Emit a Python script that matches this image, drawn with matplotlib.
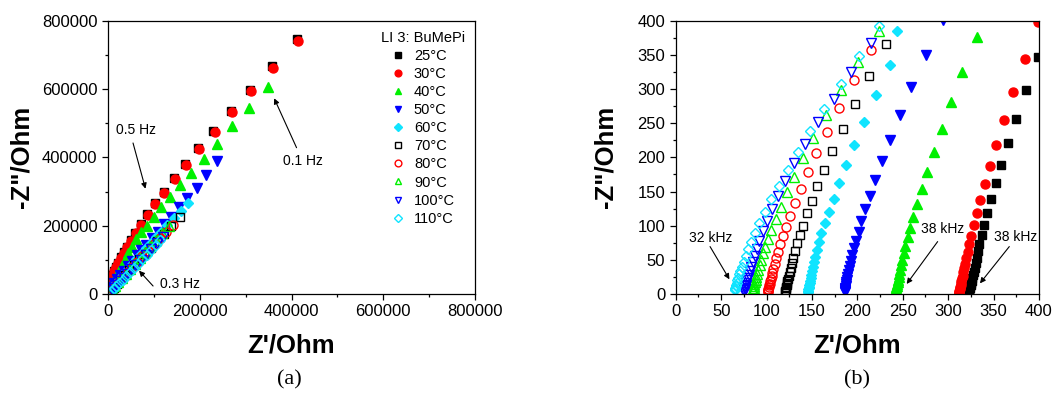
import matplotlib as mpl
mpl.use('Agg')
import matplotlib.pyplot as plt
from matplotlib.ticker import MultipleLocator

plt.rcParams['font.family'] = ['Liberation Sans', 'DejaVu Sans']

temps = ['25°C', '30°C', '40°C', '50°C', '60°C', '70°C', '80°C', '90°C', '100°C', '110°C']
legend_title = 'LI 3: BuMePi'

# panel (a): low frequency part, Ohm
a_x_25 = [410900, 357000, 309000, 267000, 229000, 196000, 167000, 143000, 121000, 101500, 85000, 71500,
          59500, 49500, 41000, 33800, 27500, 22000, 17500, 13500, 10200, 7800, 5700, 3700, 2400]
a_y_25 = [745400, 666000, 598000, 535000, 477000, 428000, 380000, 339000, 299000, 265000, 233000, 205000,
          180000, 158000, 139000, 122000, 107000, 92000, 80000, 68000, 56500, 45000, 33000, 21500, 12500]
a_x_30 = [414500, 360000, 312700, 270500, 232700, 198500, 170200, 145500, 122900, 103300, 86500, 72700,
          60400, 50200, 41500, 34200, 27700, 22300, 17900, 13500, 10300, 8100, 5900, 3700, 2600]
a_y_30 = [739500, 662400, 595100, 531700, 475100, 424400, 376600, 335600, 295600, 262400, 230200, 202000,
          177600, 156100, 137600, 121000, 105400, 90700, 79000, 67300, 55600, 43900, 32200, 20500, 11700]
a_x_40 = [349100, 308400, 270500, 237800, 209500, 181800, 157800, 136000, 116400, 99600, 85100, 72000,
          62000, 51700, 44500, 37100, 30000, 24000, 18000, 13000, 9000, 6000, 3500]
a_y_40 = [604900, 545400, 491700, 440000, 394100, 353200, 318000, 282900, 253700, 224400, 200000, 180600,
          160100, 138500, 119100, 99500, 82000, 67000, 53000, 40000, 29000, 19000, 11000]
a_x_50 = [237800, 213200, 192900, 172400, 154300, 136800, 122200, 109100, 96000, 83800, 72000, 63300,
          52000, 43000, 34000, 27000, 20000, 14000, 9000, 5000]
a_y_50 = [389300, 348300, 311100, 281900, 253800, 226300, 204900, 182400, 163000, 143400, 128800, 114200,
          97000, 83000, 68000, 55000, 43000, 31000, 21000, 12000]
a_x_60 = [175400, 158600, 143400, 129600, 116500, 104100, 93800, 83800, 72000, 61000, 50000, 40000,
          31000, 23000, 16000, 10000, 5000]
a_y_60 = [265500, 242900, 221600, 202000, 182400, 166000, 150200, 135500, 118000, 101000, 84000, 68000,
          53000, 40000, 28000, 18000, 9000]
a_x_70 = [157100, 138000, 121000, 106000, 93000, 80000, 68000, 57000, 46000, 36000, 27000, 19000, 12000, 6000]
a_y_70 = [226300, 200000, 176000, 155000, 136000, 118000, 101000, 85000, 69000, 55000, 41000, 29000, 18000, 9000]
a_x_80 = [141800, 127300, 113000, 100000, 87000, 75000, 64000, 53000, 43000, 33000, 24000, 16000, 9000, 4000]
a_y_80 = [201000, 182400, 163000, 145000, 127000, 110000, 94000, 78000, 63000, 49000, 36000, 24000, 14000, 6000]
a_x_90 = [133100, 118000, 105000, 92000, 80000, 69000, 58000, 48000, 39000, 30000, 22000, 15000, 9000, 4000]
a_y_90 = [200000, 179000, 159000, 140000, 122000, 105000, 89000, 74000, 60000, 47000, 35000, 24000, 14000, 6000]
a_x_100 = [120000, 106000, 94000, 82000, 71000, 61000, 51000, 42000, 34000, 26000, 19000, 13000, 8000, 3500]
a_y_100 = [165800, 148000, 131000, 114000, 99000, 85000, 72000, 59000, 48000, 37000, 27000, 18000, 11000, 5000]
a_x_110 = [112700, 104000, 94500, 85000, 75000, 66000, 57000, 48000, 40000, 32000, 25000, 18000, 12000, 7000, 3000]
a_y_110 = [158000, 143400, 128800, 115000, 101000, 88000, 76000, 64000, 53000, 42000, 33000, 24000, 16000, 9000, 4000]

# panel (b): high frequency part, Ohm
b_x_25 = [399.3, 385.7, 374.7, 365.9, 358.2, 352.3, 347.2, 342.8, 339.4, 336.9, 334.3, 332.8, 331.4, 330.1,
          329.0, 328.0, 327.2, 326.5, 325.8, 325.2, 324.7, 324.2, 323.8, 323.4, 323.0, 322.7, 322.4, 322.1]
b_y_25 = [346.8, 297.9, 256.4, 220.3, 189.5, 162.6, 138.7, 119.2, 101.6, 86.4, 73.3, 62.5, 53.2, 45.2,
          38.3, 32.4, 27.4, 23.1, 19.4, 16.2, 13.4, 11.0, 8.9, 7.0, 5.3, 3.8, 2.5, 1.4]
b_x_30 = [399.3, 384.6, 371.4, 361.5, 352.7, 345.7, 340.2, 335.4, 331.4, 328.1, 325.5, 323.3, 321.5, 320.0,
          318.7, 317.6, 316.7, 315.9, 315.2, 314.6, 314.1, 313.7, 313.3, 312.9, 312.6, 312.3, 312.1, 311.9, 311.7]
b_y_30 = [398.5, 343.8, 295.5, 254.0, 218.3, 187.5, 161.2, 137.7, 118.2, 100.6, 85.5, 72.8, 62.0, 52.3,
          44.5, 37.8, 32.0, 27.0, 22.7, 19.0, 15.8, 13.0, 10.6, 8.5, 6.6, 4.9, 3.4, 2.1, 1.0]
b_x_40 = [332.1, 315.6, 302.8, 292.8, 284.0, 276.7, 270.8, 265.7, 261.7, 258.0, 255.4, 252.8, 251.4, 249.5,
          248.3, 247.2, 246.3, 245.5, 244.8, 244.2, 243.7, 243.3, 242.9, 242.6, 242.3, 242.0, 241.8, 241.6]
b_y_40 = [375.6, 324.8, 280.8, 242.2, 208.5, 179.2, 154.3, 132.4, 113.3, 97.2, 83.0, 70.3, 59.6, 49.8,
          42.0, 35.5, 30.0, 25.2, 21.1, 17.6, 14.6, 12.0, 9.7, 7.7, 5.9, 4.3, 2.9, 1.6]
b_x_50 = [293.9, 275.2, 259.4, 246.6, 236.3, 227.2, 219.8, 213.6, 208.8, 204.4, 201.5, 198.5, 196.0, 194.1,
          192.7, 191.5, 190.5, 189.7, 189.0, 188.4, 187.9, 187.5, 187.1, 186.8, 186.5, 186.3, 186.1, 185.9]
b_y_50 = [400.5, 349.2, 302.3, 261.8, 225.2, 194.9, 167.5, 144.1, 124.0, 107.0, 91.3, 78.1, 66.9, 57.1,
          48.4, 41.0, 34.6, 29.1, 24.4, 20.4, 17.0, 14.0, 11.4, 9.1, 7.1, 5.3, 3.7, 2.3]
b_x_60 = [244.0, 236.3, 220.9, 207.7, 196.7, 187.9, 180.2, 174.0, 168.8, 164.4, 160.4, 157.8, 155.6, 153.8,
          152.3, 151.0, 150.0, 149.1, 148.4, 147.8, 147.3, 146.9, 146.5, 146.2, 145.9, 145.7, 145.5, 145.3]
b_y_60 = [385.3, 335.5, 291.1, 252.0, 217.8, 188.5, 162.6, 139.7, 120.1, 104.0, 88.9, 75.7, 64.5, 54.7,
          46.3, 39.2, 33.1, 27.9, 23.4, 19.6, 16.3, 13.4, 10.9, 8.7, 6.8, 5.1, 3.6, 2.2]
b_x_70 = [231.6, 212.8, 197.4, 183.9, 172.5, 163.7, 156.0, 149.7, 144.2, 140.2, 136.5, 133.6, 131.0, 129.2,
          127.7, 126.4, 125.3, 124.4, 123.6, 123.0, 122.4, 122.0, 121.6, 121.3, 121.0, 120.8, 120.6]
b_y_70 = [365.3, 318.9, 277.9, 241.8, 209.5, 181.7, 157.8, 136.3, 118.2, 100.1, 86.4, 74.2, 63.0, 53.2,
          45.0, 38.0, 32.0, 26.9, 22.5, 18.8, 15.6, 12.8, 10.3, 8.1, 6.1, 4.3, 2.7]
b_x_80 = [215.4, 196.3, 180.2, 166.2, 154.9, 145.3, 137.6, 131.0, 125.9, 121.5, 117.8, 114.9, 112.3, 110.5,
          108.9, 107.6, 106.5, 105.5, 104.7, 104.0, 103.4, 102.9, 102.5, 102.1, 101.8, 101.5, 101.3]
b_y_80 = [357.0, 312.6, 272.5, 236.9, 206.1, 178.8, 154.3, 133.8, 114.8, 98.7, 85.0, 72.8, 62.0, 52.3,
          44.2, 37.3, 31.4, 26.4, 22.1, 18.4, 15.3, 12.5, 10.1, 8.0, 6.1, 4.4, 2.9]
b_x_90 = [223.5, 201.1, 182.4, 165.5, 151.2, 139.8, 129.9, 122.2, 115.6, 110.1, 105.3, 102.0, 98.7, 96.5,
          94.3, 92.5, 91.0, 89.8, 88.8, 88.0, 87.3, 86.7, 86.2, 85.8, 85.4, 85.1, 84.8]
b_y_90 = [385.3, 338.9, 297.9, 261.3, 228.1, 198.8, 171.9, 149.0, 128.0, 110.4, 93.8, 81.1, 69.4, 59.6,
          49.8, 42.0, 35.4, 29.8, 25.0, 20.9, 17.4, 14.4, 11.8, 9.5, 7.4, 5.5, 3.8]
b_x_100 = [214.7, 192.7, 173.9, 156.7, 142.8, 130.6, 120.7, 112.7, 106.1, 100.6, 96.1, 92.1, 89.2, 87.0,
           84.8, 83.0, 81.5, 80.3, 79.3, 78.5, 77.8, 77.2, 76.7, 76.3, 75.9, 75.6, 75.3]
b_y_100 = [367.3, 324.8, 285.7, 251.0, 219.8, 191.5, 166.1, 144.1, 124.5, 107.0, 91.8, 78.1, 66.4, 56.2,
           47.4, 40.0, 33.7, 28.4, 23.8, 19.9, 16.6, 13.7, 11.2, 9.0, 7.0, 5.2, 3.6]
b_x_110 = [224.2, 201.8, 182.0, 163.7, 147.9, 134.3, 123.3, 113.4, 105.3, 98.0, 92.1, 87.3, 83.3, 80.0,
           77.1, 74.8, 72.9, 71.3, 70.0, 68.9, 68.0, 67.3, 66.7, 66.2, 65.8, 65.4, 65.1]
b_y_110 = [392.2, 347.7, 307.2, 271.1, 238.3, 208.5, 181.7, 158.7, 138.7, 119.7, 103.5, 88.9, 76.2, 65.4,
           55.7, 47.3, 40.1, 33.9, 28.6, 24.0, 20.1, 16.8, 13.9, 11.4, 9.2, 7.2, 5.4]

a_data = [(a_x_25, a_y_25), (a_x_30, a_y_30), (a_x_40, a_y_40), (a_x_50, a_y_50), (a_x_60, a_y_60),
          (a_x_70, a_y_70), (a_x_80, a_y_80), (a_x_90, a_y_90), (a_x_100, a_y_100), (a_x_110, a_y_110)]
b_data = [(b_x_25, b_y_25), (b_x_30, b_y_30), (b_x_40, b_y_40), (b_x_50, b_y_50), (b_x_60, b_y_60),
          (b_x_70, b_y_70), (b_x_80, b_y_80), (b_x_90, b_y_90), (b_x_100, b_y_100), (b_x_110, b_y_110)]

colors = ['#000000', '#ff0000', '#00f000', '#0000ff', '#10e4ff',
          '#000000', '#ff0000', '#00f000', '#0000ff', '#10e4ff']
markers = ['s', 'o', '^', 'v', 'D', 's', 'o', '^', 'v', 'D']
sizes = [5.5, 6.5, 6.5, 6.5, 5.5, 5.5, 6.5, 6.5, 6.5, 5.5]


def style_axes(ax):
    for sp in ax.spines.values():
        sp.set_linewidth(0.9)
    ax.tick_params(which='major', direction='out', length=4, width=0.9, labelsize=12,
                   top=False, right=False)
    ax.tick_params(which='minor', direction='out', length=2.5, width=0.9, top=False, right=False)


def draw_series(ax, data):
    for i, (xs, ys) in enumerate(data):
        filled = i < 5
        ax.plot(xs, ys, linestyle='none', marker=markers[i], markersize=sizes[i],
                color=colors[i], markerfacecolor=colors[i] if filled else 'none',
                markeredgewidth=1.0, label=temps[i])


fig = plt.figure(figsize=(10.56, 3.94), dpi=100)
ax1 = fig.add_axes([0.1023, 0.2538, 0.3475, 0.6937])
ax2 = fig.add_axes([0.6399, 0.2538, 0.344, 0.6937])

# (a)
draw_series(ax1, a_data)
ax1.set_xlim(0, 800000)
ax1.set_ylim(0, 800000)
ax1.xaxis.set_major_locator(MultipleLocator(200000))
ax1.xaxis.set_minor_locator(MultipleLocator(100000))
ax1.yaxis.set_major_locator(MultipleLocator(200000))
ax1.yaxis.set_minor_locator(MultipleLocator(100000))
ax1.ticklabel_format(style='plain', useOffset=False)
style_axes(ax1)
ax1.set_xlabel("Z'/Ohm", fontsize=18.5, fontweight='bold', labelpad=10)
ax1.set_ylabel('-Z"/Ohm', fontsize=18.5, fontweight='bold', labelpad=6)

leg = ax1.legend(title=legend_title, loc='upper right', bbox_to_anchor=(1.0, 1.0), frameon=False,
                 fontsize=10.5, title_fontsize=10.5, markerscale=0.75, handlelength=1.0,
                 handletextpad=0.6, labelspacing=0.28, borderaxespad=0.3)

arrow = dict(arrowstyle='-|>', color='black', lw=0.8, mutation_scale=8, shrinkA=0, shrinkB=0)
ax1.annotate('', xy=(81600, 308200), xytext=(54500, 442000), arrowprops=arrow)
ax1.text(62000, 480000, '0.5 Hz', fontsize=10, ha='center', va='center')
ax1.annotate('', xy=(362200, 572800), xytext=(411000, 428200), arrowprops=arrow)
ax1.text(425500, 389300, '0.1 Hz', fontsize=10, ha='center', va='center')
ax1.annotate('', xy=(67600, 68200), xytext=(98200, 23400), arrowprops=arrow)
ax1.text(156500, 29300, '0.3 Hz', fontsize=10, ha='center', va='center')

# (b)
draw_series(ax2, b_data)
ax2.set_xlim(0, 400)
ax2.set_ylim(0, 400)
ax2.xaxis.set_major_locator(MultipleLocator(50))
ax2.xaxis.set_minor_locator(MultipleLocator(25))
ax2.yaxis.set_major_locator(MultipleLocator(50))
ax2.yaxis.set_minor_locator(MultipleLocator(25))
style_axes(ax2)
ax2.set_xlabel("Z'/Ohm", fontsize=18.5, fontweight='bold', labelpad=10)
ax2.set_ylabel('-Z"/Ohm', fontsize=18.5, fontweight='bold', labelpad=14)

ax2.annotate('', xy=(59.1, 21.5), xytext=(37.8, 69.4), arrowprops=arrow)
ax2.text(38.9, 82.5, '32 kHz', fontsize=10, ha='center', va='center')
ax2.annotate('', xy=(254.3, 14.7), xytext=(288.4, 76.7), arrowprops=arrow)
ax2.text(293.9, 95.7, '38 kHz', fontsize=10, ha='center', va='center')
ax2.annotate('', xy=(335.0, 15.6), xytext=(367.3, 69.4), arrowprops=arrow)
ax2.text(374.3, 84.0, '38 kHz', fontsize=10, ha='center', va='center')

fig.text(0.274, 0.037, '(a)', fontsize=16, family=['Liberation Serif', 'DejaVu Serif'],
         ha='center', va='center')
fig.text(0.8115, 0.037, '(b)', fontsize=16, family=['Liberation Serif', 'DejaVu Serif'],
         ha='center', va='center')

fig.savefig('out.png', dpi=100)
